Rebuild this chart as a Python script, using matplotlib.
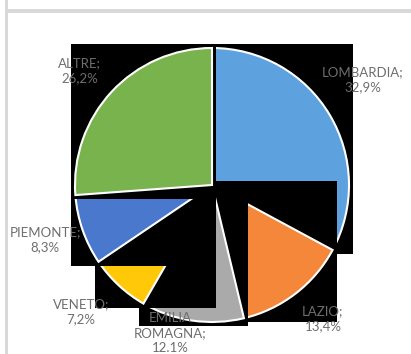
import matplotlib
matplotlib.use("Agg")
import matplotlib.pyplot as plt
import matplotlib.patches as mpatches
import numpy as np

# data
regions = ["LOMBARDIA", "LAZIO", "EMILIA\nROMAGNA", "VENETO", "PIEMONTE", "ALTRE"]
shares = [32.9, 13.4, 12.1, 7.2, 8.3, 26.2]
share_labels = ["32,9%", "13,4%", "12.1%", "7,2%", "8,3%", "26,2%"]
colors = ["#5DA1DE", "#F5873A", "#AAAAAA", "#FFC90A", "#4A78CC", "#78B34E"]

# label placement (radius, angle tweak in deg)
label_dist = [1.34, 1.27, 1.12, 1.33, 1.28, 1.28]
label_turn = [-4, -2, 7.5, 3, 1, -2]

TEXT = "#6e6e6e"
FRAME = "#d9d9d9"

W, H = 411, 354
fig = plt.figure(figsize=(W / 100, H / 100), dpi=100)
fig.patch.set_facecolor("white")

# frame lines of the sheet
fig.add_artist(mpatches.Rectangle((5 / W, 0), 3 / W, 1, transform=fig.transFigure,
                                  color=FRAME, lw=0))
fig.add_artist(mpatches.Rectangle((5 / W, 1 - 13 / H), 1, 4 / H, transform=fig.transFigure,
                                  color=FRAME, lw=0))

cx, cy, r = 212, 185, 137
ax = fig.add_axes([(cx - r) / W, (H - cy - r) / H, 2 * r / W, 2 * r / H])
wedges, _ = ax.pie(shares, colors=colors, startangle=90, counterclock=False,
                   wedgeprops=dict(edgecolor="white", linewidth=1.5))
ax.set_xlim(-1, 1)
ax.set_ylim(-1, 1)
ax.set_aspect("auto")
ax.axis("off")

pad = 4 / r
for i, w in enumerate(wedges):
    # black bounding box behind each slice (incl. centre)
    th = np.radians(np.linspace(w.theta1, w.theta2, 200))
    xs = np.append(w.r * np.cos(th), 0) + w.center[0]
    ys = np.append(w.r * np.sin(th), 0) + w.center[1]
    x0, x1 = xs.min() - pad, xs.max() + pad
    y0, y1 = ys.min() - pad, ys.max() + pad
    box = mpatches.Rectangle((x0, y0), x1 - x0, y1 - y0, facecolor="black",
                             edgecolor="none", zorder=2 * i + 1, clip_on=False)
    ax.add_patch(box)
    w.set_zorder(2 * i + 2)
    w.set_clip_on(False)

    mid = np.radians((w.theta1 + w.theta2) / 2 - label_turn[i])
    d = label_dist[i]
    ax.text(d * np.cos(mid), d * np.sin(mid), f"{regions[i]};\n{share_labels[i]}",
            ha="center", va="center", color=TEXT, fontsize=9.5, family="Lato",
            linespacing=1.3, zorder=50)

plt.savefig("out.png", dpi=100, facecolor="white")
